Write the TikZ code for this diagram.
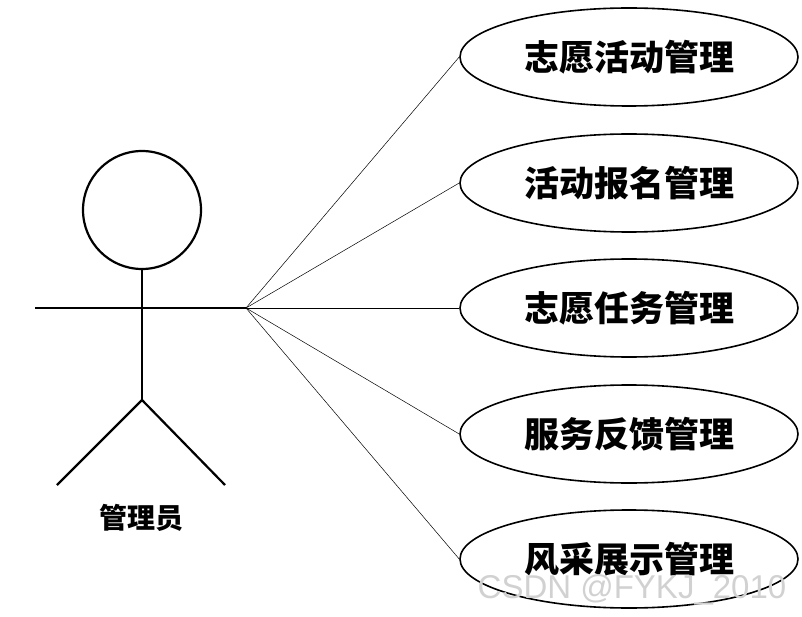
\documentclass[tikz,border=0pt]{standalone}
\usepackage{fontspec}
\usetikzlibrary{shapes.geometric}
\newfontfamily\cjk{Noto Sans CJK SC}
\begin{document}
\begin{tikzpicture}[x=1pt,y=-1pt,
  uc/.style={draw,ellipse,minimum width=338pt,minimum height=98pt,inner sep=0pt,line width=1.6pt,font=\cjk\bfseries\fontsize{35}{35}\selectfont},
  fig/.style={line width=2.2pt},
  link/.style={line width=0.5pt}]
\useasboundingbox (0,0) rectangle (802,617);
\node[draw,circle,minimum size=118pt,inner sep=0pt,line width=2.2pt] (head) at (142,210) {};
\coordinate (la) at (35,308);
\coordinate (hand) at (246,308);
\coordinate (neck) at (142,308);
\coordinate (hip) at (142,400);
\coordinate (lf) at (57,485);
\coordinate (rf) at (225,485);
\draw[fig] (la) -- (hand);
\draw[fig] (head.south) -- (hip);
\draw[fig] (lf) -- (hip) -- (rf);
\node[font=\cjk\bfseries\fontsize{28}{28}\selectfont] (actor) at (141,518) {管理员};
\foreach \n/\y/\t in {u1/57/志愿活动管理,u2/183/活动报名管理,u3/308/志愿任务管理,u4/434/服务反馈管理,u5/559/风采展示管理}{
  \node[uc] (\n) at (629,\y) {\t};
  \draw[link] (hand) -- (\n.west);
}
\node[text=black!18,font=\fontspec{Liberation Sans}\fontsize{33}{33}\selectfont] (wm) at (632,590) {CSDN @FYKJ\_2010};
\end{tikzpicture}
\end{document}
